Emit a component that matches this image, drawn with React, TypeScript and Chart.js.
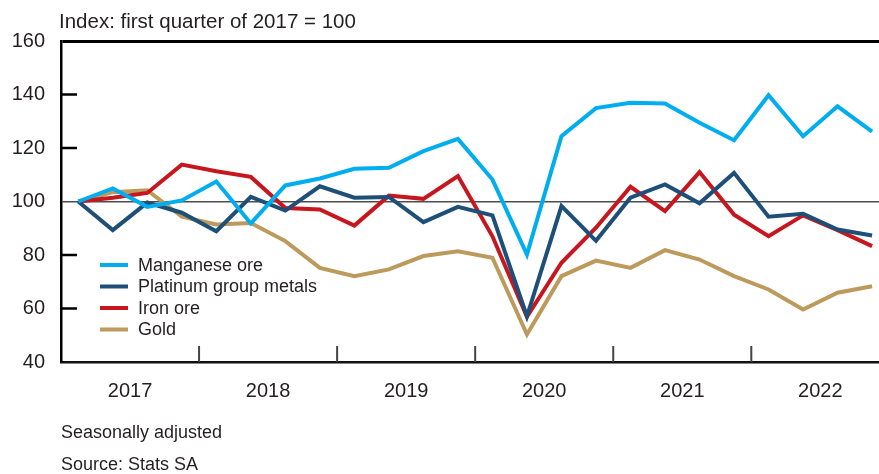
import React, { useEffect, useRef } from "react";
import { Chart, registerables } from "chart.js";

Chart.register(...registerables);

const quarters = [
  "2017Q1", "2017Q2", "2017Q3", "2017Q4",
  "2018Q1", "2018Q2", "2018Q3", "2018Q4",
  "2019Q1", "2019Q2", "2019Q3", "2019Q4",
  "2020Q1", "2020Q2", "2020Q3", "2020Q4",
  "2021Q1", "2021Q2", "2021Q3", "2021Q4",
  "2022Q1", "2022Q2", "2022Q3", "2022Q4",
];
const yearLabels = ["2017", "2018", "2019", "2020", "2021", "2022"];
const yTickValues = [40, 60, 80, 100, 120, 140, 160];

const manganese = [100, 104.9, 98, 100.4, 107.5, 91.8, 106, 108.6, 112.2, 112.6, 118.8, 123.4, 108.2, 80.2, 124.4, 134.9, 136.9, 136.6, 129.4, 122.9, 139.7, 124.4, 135.6, 126.1];
const platinum = [100, 89.3, 99.6, 95.8, 88.9, 101.7, 96.6, 105.7, 101.4, 101.7, 92.3, 98, 94.8, 57.1, 98.3, 85.3, 101.4, 106.4, 99.3, 110.7, 94.3, 95.4, 89.5, 87.3];
const ironOre = [100, 101.4, 103.2, 113.8, 111.3, 109.2, 97.6, 97, 91, 102.2, 101, 109.5, 87, 56.9, 77.1, 90.2, 105.5, 96.4, 111, 95.1, 87, 94.8, 89.3, 83.3];
const gold = [100, 103.5, 104.2, 94.3, 91.4, 92, 85.2, 75.2, 72.1, 74.6, 79.6, 81.4, 79, 50.3, 72.1, 77.9, 75.2, 81.8, 78.3, 72.1, 67.1, 59.6, 65.9, 68.3];

const seriesLabels = ["Manganese ore", "Platinum group metals", "Iron ore", "Gold"];
const seriesColors = ["#00AEEF", "#1D4F79", "#C8161E", "#BB9A5B"];
const seriesValues = [manganese, platinum, ironOre, gold];

const FONT = "'Liberation Sans', Arial, sans-serif";
const TEXT = "#231F20";

const frameTicks = {
  id: "frameTicks",
  afterDatasetsDraw(chart: any) {
    const { ctx, chartArea, scales } = chart;
    const x = scales.x;
    const y = scales.y;
    ctx.save();
    ctx.strokeStyle = "#000";
    ctx.lineWidth = 2.5;
    [60, 80, 120, 140].forEach((v) => {
      const py = y.getPixelForValue(v);
      ctx.beginPath();
      ctx.moveTo(chartArea.left, py);
      ctx.lineTo(chartArea.left + 16, py);
      ctx.stroke();
    });
    ctx.strokeStyle = "#444";
    ctx.lineWidth = 2;
    for (let k = 1; k < yearLabels.length; k++) {
      const px = x.getPixelForValue(k * 4 - 0.5);
      ctx.beginPath();
      ctx.moveTo(px, chartArea.bottom);
      ctx.lineTo(px, chartArea.bottom - 16);
      ctx.stroke();
    }
    ctx.font = `18px ${FONT}`;
    ctx.textBaseline = "middle";
    ctx.textAlign = "left";
    chart.data.datasets.forEach((ds: any, i: number) => {
      const cy = chartArea.top + 224 + i * 21.5;
      const lx = chartArea.left + 39;
      ctx.strokeStyle = ds.borderColor;
      ctx.lineWidth = 4;
      ctx.lineCap = "butt";
      ctx.beginPath();
      ctx.moveTo(lx, cy);
      ctx.lineTo(lx + 28, cy);
      ctx.stroke();
      ctx.fillStyle = TEXT;
      ctx.fillText(ds.label, lx + 38, cy + 1);
    });
    ctx.restore();
  },
};

export default function App() {
  const ref = useRef<HTMLCanvasElement | null>(null);

  useEffect(() => {
    document.body.style.margin = "0";
    const canvas = ref.current;
    if (!canvas) return;
    const chart = new Chart(canvas, {
      type: "line",
      data: {
        datasets: seriesValues.map((vals, i) => ({
          label: seriesLabels[i],
          data: vals.map((v, j) => ({ x: j, y: v })),
          borderColor: seriesColors[i],
          backgroundColor: seriesColors[i],
          borderWidth: 4,
          pointRadius: 0,
          tension: 0,
          borderJoinStyle: "miter" as const,
        })),
      },
      options: {
        animation: false,
        responsive: false,
        events: [],
        layout: { padding: { left: 0, top: 41, right: 0, bottom: 72 } },
        plugins: {
          legend: { display: false },
          tooltip: { enabled: false },
          title: { display: false },
        },
        scales: {
          x: {
            type: "linear",
            min: -0.5,
            max: 23.2,
            afterBuildTicks: (scale: any) => {
              scale.ticks = yearLabels.map((_, k) => ({ value: k * 4 + 1.5 }));
            },
            afterFit: (scale: any) => {
              scale.height = 40;
            },
            grid: { display: false, drawTicks: false },
            border: { display: true, color: "#111", width: 2.5 },
            ticks: {
              autoSkip: false,
              maxRotation: 0,
              padding: 17,
              color: TEXT,
              font: { family: FONT, size: 20 },
              callback: (v: any) => yearLabels[Math.round((Number(v) - 1.5) / 4)] ?? "",
            },
          },
          y: {
            min: 40,
            max: 160,
            afterBuildTicks: (scale: any) => {
              scale.ticks = yTickValues.map((v) => ({ value: v }));
            },
            afterFit: (scale: any) => {
              scale.width = 61;
            },
            grid: {
              drawTicks: false,
              color: (c: any) => (c.tick && c.tick.value === 100 ? "#4D4D4D" : c.tick && c.tick.value === 160 ? "#000" : "rgba(0,0,0,0)"),
              lineWidth: (c: any) => (c.tick && c.tick.value === 160 ? 3 : c.tick && c.tick.value === 100 ? 1.5 : 0),
            },
            border: { display: true, color: "#000", width: 2.5 },
            ticks: {
              padding: 16,
              color: TEXT,
              font: { family: FONT, size: 20 },
            },
          },
        },
      },
      plugins: [frameTicks],
    });
    return () => chart.destroy();
  }, []);

  return (
    <div style={{ position: "relative", width: 879, height: 474, overflow: "hidden", fontFamily: FONT, color: TEXT }}>
      <div style={{ position: "absolute", left: 59, top: 11, fontSize: 20.5, lineHeight: "20px", whiteSpace: "nowrap" }}>
        Index: first quarter of 2017 = 100
      </div>
      <canvas ref={ref} width={879} height={474} style={{ display: "block" }} />
      <div style={{ position: "absolute", left: 61, top: 423, fontSize: 18, lineHeight: "18px", whiteSpace: "nowrap" }}>
        Seasonally adjusted
      </div>
      <div style={{ position: "absolute", left: 61, top: 455, fontSize: 18, lineHeight: "18px", whiteSpace: "nowrap" }}>
        Source: Stats SA
      </div>
    </div>
  );
}
